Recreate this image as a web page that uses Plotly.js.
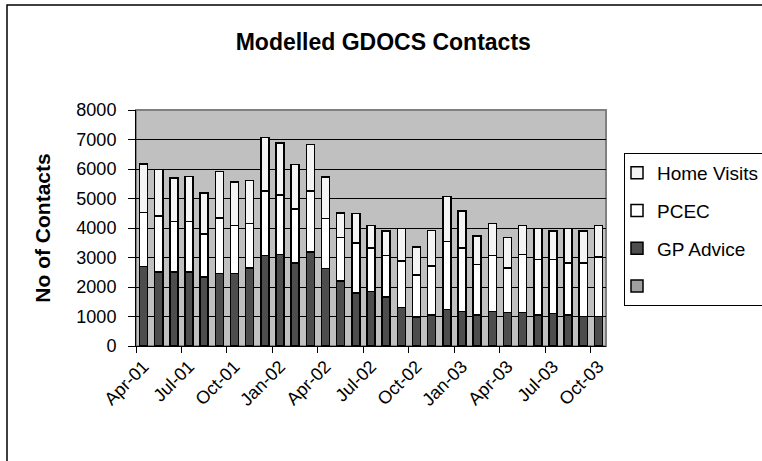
<!DOCTYPE html>
<html><head><meta charset="utf-8">
<script src="https://cdn.plot.ly/plotly-3.0.1.min.js"></script>
<style>body{margin:0;background:#fff}#chart{width:762px;height:461px}</style>
</head><body><div id="chart"></div>
<script>
var months = ["Apr-01","May-01","Jun-01","Jul-01","Aug-01","Sep-01","Oct-01","Nov-01","Dec-01",
"Jan-02","Feb-02","Mar-02","Apr-02","May-02","Jun-02","Jul-02","Aug-02","Sep-02","Oct-02","Nov-02","Dec-02",
"Jan-03","Feb-03","Mar-03","Apr-03","May-03","Jun-03","Jul-03","Aug-03","Sep-03","Oct-03"];
var gpAdvice = [2700,2510,2510,2510,2340,2450,2450,2640,3060,3110,2820,3180,2630,2200,1800,1850,
1660,1310,990,1050,1230,1170,1050,1170,1140,1140,1050,1110,1050,1000,1000];
var pcec = [1820,1900,1710,1710,1460,1890,1640,1520,2200,2010,1830,2080,1700,1470,1690,1470,
1410,1570,1420,1660,2320,2150,1710,1900,1500,1970,1880,1820,1770,1820,2010];
var homeVisits = [1650,1570,1470,1520,1390,1580,1470,1450,1800,1760,1510,1570,1400,840,1010,770,
830,1100,950,1200,1520,1260,970,1090,1030,980,1050,970,1160,1080,1080];
var blankSeries = months.map(function(){return 0;});
var tickLabels = ["Apr-01","Jul-01","Oct-01","Jan-02","Apr-02","Jul-02","Oct-02","Jan-03","Apr-03","Jul-03","Oct-03"];

var idx = months.map(function(m,i){return i;});
var tickPos = tickLabels.map(function(t){return months.indexOf(t);});
var boundaryPos = tickPos.map(function(p){return p-0.5;});

function tr(name, vals, color, grp, rank){
  return {type:'bar', name:name, x:idx, y:vals, legendgroup:grp, legendrank:rank,
    marker:{color:color, line:{color:'#000', width:1.5}}, hoverinfo:'y+name'};
}
var data = [
  tr(' ', blankSeries, '#a0a0a0', 'g0', 4),
  tr('GP Advice', gpAdvice, '#4d4d4d', 'g1', 3),
  tr('PCEC', pcec, '#ffffff', 'g2', 2),
  tr('Home Visits', homeVisits, '#f4f4f4', 'g3', 1),
  {type:'scatter', x:[0], y:[0], xaxis:'x2', mode:'markers', marker:{opacity:0}, showlegend:false, hoverinfo:'skip'}
];
var L=136, T=110, W=470, H=236;
function px(x){return (x-L)/W;} function py(y){return (T+H-y)/H;}
var layout = {
  width:762, height:461,
  margin:{l:L, r:762-L-W, t:T, b:461-T-H, autoexpand:false},
  paper_bgcolor:'#fff', plot_bgcolor:'#c0c0c0',
  font:{family:'"Liberation Sans", Arial, sans-serif', color:'#000', size:18},
  barmode:'stack', bargap:0.47,
  title:{text:'<b>Modelled GDOCS Contacts</b>', x:0.503, xanchor:'center', y:0.91, yanchor:'middle',
    font:{size:23, family:'"Liberation Sans", Arial, sans-serif'}},
  xaxis:{range:[-0.5, months.length-0.5], tickvals:tickPos, ticktext:tickLabels, tickangle:-45,
    ticks:'', showgrid:false, zeroline:false, showline:true, linecolor:'#000', linewidth:1,
    tickfont:{size:18}, ticklabelstandoff:2},
  xaxis2:{overlaying:'x', range:[-0.5, months.length-0.5], tickvals:boundaryPos, ticks:'outside',
    ticklen:6, tickcolor:'#000', showticklabels:false, showgrid:false, zeroline:false, side:'bottom'},
  yaxis:{range:[0,8000], dtick:1000, tickformat:'d', showgrid:true, gridcolor:'#000', gridwidth:1,
    zeroline:false, showline:true, linecolor:'#000', linewidth:1, ticks:'outside', ticklen:7, tickcolor:'#000',
    tickfont:{size:18}, ticklabelstandoff:8,
    title:{text:'<b>No of Contacts</b>', font:{size:21}, standoff:20}},
  legend:{x:px(624), xanchor:'left', y:py(153), yanchor:'top', bgcolor:'#fff', bordercolor:'#000', borderwidth:1,
    traceorder:'grouped', tracegroupgap:10, font:{size:19}, itemwidth:30, indentation:-8},
  shapes:[
    {type:'rect', xref:'paper', yref:'paper', x0:0, x1:1, y0:0, y1:1, line:{color:'#808080', width:2}, layer:'below'},
    {type:'rect', xref:'paper', yref:'paper', x0:px(7), x1:px(790), y0:py(5), y1:py(480), line:{color:'#000', width:1.5}, fillcolor:'rgba(0,0,0,0)'}
  ],
  showlegend:true
};
Plotly.newPlot('chart', data, layout, {staticPlot:true, displayModeBar:false});
</script></body></html>
